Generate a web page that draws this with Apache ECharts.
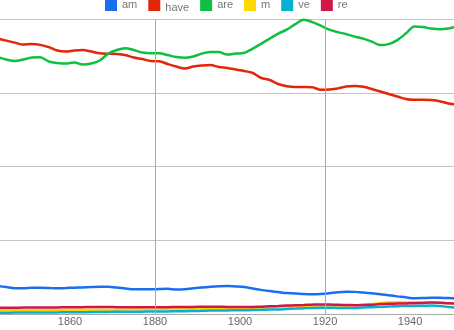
<!DOCTYPE html>
<html>
<head>
<meta charset="utf-8">
<script src="https://cdn.jsdelivr.net/npm/echarts@6/dist/echarts.min.js"></script>
<style>
html,body{margin:0;padding:0;background:#fff;}
#chart{width:454px;height:330px;}
</style>
</head>
<body>
<div id="chart"></div>
<script>
var years = [1843,1845,1847,1849,1851,1853,1855,1857,1859,1861,1863,1865,1867,1869,1871,1873,1875,1877,1879,1881,1883,1885,1887,1889,1891,1893,1895,1897,1899,1901,1903,1905,1907,1909,1911,1913,1915,1917,1919,1921,1923,1925,1927,1929,1931,1933,1935,1937,1939,1941,1943,1945,1947,1949,1951];
var tickLabels = [1860,1880,1900,1920,1940];
var gridYears = [1880,1920];
var seriesNames = ['am','have','are','m','ve','re'];
var am = [0.0379,0.0365,0.0349,0.0348,0.0356,0.0356,0.0353,0.0348,0.0352,0.0357,0.0361,0.0365,0.0368,0.0368,0.0359,0.0345,0.0334,0.0334,0.0334,0.0338,0.0341,0.0331,0.0336,0.0349,0.0359,0.0368,0.0375,0.0379,0.0373,0.0365,0.0345,0.0327,0.0311,0.0298,0.0284,0.0279,0.0271,0.0267,0.0271,0.0281,0.0294,0.0302,0.0300,0.0291,0.0280,0.0268,0.0254,0.0239,0.0226,0.0214,0.0216,0.0221,0.0219,0.0216,0.0212];
var have = [0.3734,0.3707,0.3680,0.3653,0.3660,0.3649,0.3619,0.3572,0.3558,0.3572,0.3579,0.3558,0.3535,0.3529,0.3525,0.3511,0.3477,0.3457,0.3430,0.3426,0.3389,0.3355,0.3328,0.3355,0.3369,0.3376,0.3349,0.3335,0.3315,0.3295,0.3268,0.3200,0.3173,0.3119,0.3089,0.3078,0.3078,0.3074,0.3040,0.3044,0.3058,0.3085,0.3092,0.3081,0.3051,0.3017,0.2983,0.2950,0.2916,0.2905,0.2905,0.2902,0.2886,0.2855,0.2841];
var are = [0.3484,0.3450,0.3430,0.3450,0.3477,0.3481,0.3423,0.3403,0.3396,0.3410,0.3383,0.3396,0.3437,0.3531,0.3579,0.3603,0.3579,0.3545,0.3535,0.3535,0.3511,0.3484,0.3473,0.3491,0.3531,0.3552,0.3552,0.3518,0.3531,0.3541,0.3599,0.3667,0.3734,0.3802,0.3856,0.3930,0.3991,0.3958,0.3910,0.3856,0.3822,0.3795,0.3761,0.3734,0.3694,0.3646,0.3660,0.3714,0.3802,0.3897,0.3890,0.3870,0.3860,0.3870,0.3897];
var m = [0.0050,0.0050,0.0050,0.0051,0.0051,0.0053,0.0053,0.0054,0.0054,0.0055,0.0057,0.0057,0.0058,0.0058,0.0058,0.0060,0.0060,0.0061,0.0061,0.0062,0.0064,0.0065,0.0066,0.0068,0.0069,0.0070,0.0072,0.0073,0.0074,0.0076,0.0078,0.0083,0.0087,0.0092,0.0097,0.0103,0.0108,0.0112,0.0115,0.0116,0.0116,0.0115,0.0118,0.0124,0.0135,0.0147,0.0156,0.0158,0.0158,0.0158,0.0157,0.0156,0.0152,0.0146,0.0141];
var ve = [0.0018,0.0018,0.0019,0.0019,0.0020,0.0020,0.0022,0.0022,0.0023,0.0023,0.0024,0.0026,0.0027,0.0028,0.0030,0.0031,0.0031,0.0032,0.0034,0.0034,0.0035,0.0037,0.0038,0.0041,0.0043,0.0046,0.0047,0.0049,0.0050,0.0051,0.0054,0.0057,0.0060,0.0062,0.0068,0.0073,0.0078,0.0083,0.0085,0.0085,0.0083,0.0081,0.0083,0.0088,0.0092,0.0097,0.0103,0.0106,0.0108,0.0110,0.0112,0.0115,0.0108,0.0096,0.0084];
var re = [0.0085,0.0085,0.0085,0.0087,0.0087,0.0088,0.0088,0.0089,0.0091,0.0092,0.0093,0.0095,0.0095,0.0095,0.0093,0.0092,0.0092,0.0092,0.0092,0.0093,0.0093,0.0095,0.0095,0.0096,0.0097,0.0097,0.0097,0.0096,0.0095,0.0095,0.0096,0.0099,0.0104,0.0108,0.0114,0.0118,0.0122,0.0127,0.0130,0.0129,0.0124,0.0122,0.0119,0.0122,0.0127,0.0134,0.0138,0.0141,0.0143,0.0146,0.0150,0.0156,0.0153,0.0146,0.0142];
var colors = ['#1a6ef0','#e3260a','#0fc040','#ffd800','#0bafd4','#d0174a'];

var values = [am, have, are, m, ve, re];
var series = seriesNames.map(function(name, i){
  var s = {
    name: name,
    type: 'line',
    showSymbol: false,
    smooth: 0.3,
    lineStyle: {width: 2.5, color: colors[i]},
    itemStyle: {color: colors[i]},
    data: years.map(function(y, k){ return [y, values[i][k]]; })
  };
  return s;
});
// vertical grid lines (behind all curves): attach to a bare series drawn first
series.unshift({
  name: '_grid',
  type: 'line',
  data: [],
  silent: true,
  z: 1,
  markLine: {
    silent: true,
    symbol: ['none', 'none'],
    label: {show: false},
    lineStyle: {color: '#a8a8a8', width: 1, type: 'solid'},
    data: gridYears.map(function(y){ return {xAxis: y}; })
  }
});

var chart = echarts.init(document.getElementById('chart'), null, {renderer: 'canvas'});
chart.setOption({
  animation: false,
  backgroundColor: '#fff',
  color: colors,
  legend: {
    data: seriesNames,
    left: 105,
    top: -1,
    padding: 0,
    itemGap: 11,
    itemWidth: 12,
    itemHeight: 12,
    icon: 'rect',
    formatter: function(name){ return name === 'have' ? '{s|have}' : name; },
    textStyle: {
      fontFamily: 'Liberation Sans, Arial, sans-serif',
      fontSize: 11,
      color: '#777',
      rich: {s: {fontSize: 11, color: '#777', padding: [5, 0, 0, 0]}}
    }
  },
  grid: {left: 0, right: 0, top: 19, bottom: 16},
  xAxis: {
    type: 'value',
    min: 1843.53,
    max: 1950.35,
    axisLine: {show: true, lineStyle: {color: '#aaa', width: 1}},
    axisTick: {show: false},
    splitLine: {show: false},
    axisLabel: {
      customValues: tickLabels,
      showMinLabel: true,
      showMaxLabel: true,
      margin: 2,
      fontFamily: 'Liberation Sans, Arial, sans-serif',
      fontSize: 11,
      color: '#666',
      formatter: function(v){ return String(v); }
    }
  },
  yAxis: {
    type: 'value',
    min: 0,
    max: 0.4,
    interval: 0.1,
    axisLine: {show: false},
    axisTick: {show: false},
    axisLabel: {show: false},
    splitLine: {show: true, lineStyle: {color: '#c4c4c4', width: 1}}
  },
  series: series
});
</script>
</body>
</html>
